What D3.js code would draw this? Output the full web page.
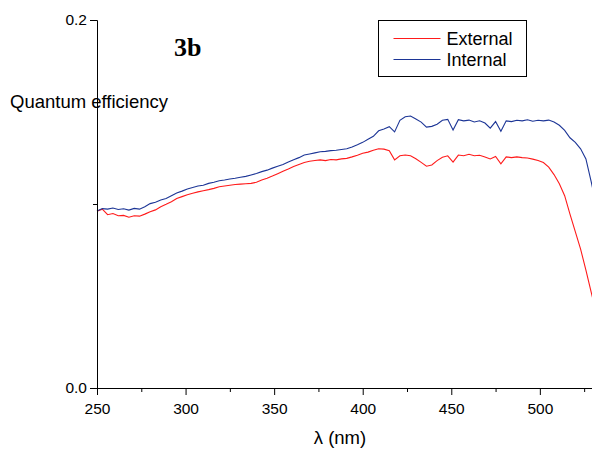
<!DOCTYPE html>
<html>
<head>
<meta charset="utf-8">
<script src="https://cdn.jsdelivr.net/npm/d3@7"></script>
<style>
  body { margin: 0; background: #fff; }
  svg { display: block; }
  .axis text { font-family: 'Liberation Sans', Arial, sans-serif; font-size: 15.5px; fill: #000; }
  .axis path, .axis line { stroke: #000; }
</style>
</head>
<body>
<svg width="592" height="451"></svg>
<script>
// wavelength (nm)
const wavelength = [
  250, 253, 256, 259, 262, 265, 268, 271, 274, 277,
  280, 283, 286, 289, 292, 295, 298, 301, 304, 307,
  310, 313, 316, 319, 322, 325, 328, 331, 334, 337,
  340, 343, 346, 349, 352, 355, 358, 361, 364, 367,
  370, 373, 376, 379, 382, 385, 388, 391, 394, 397,
  400, 403, 406, 409, 412, 415, 418, 421, 424, 427,
  430, 433, 436, 439, 442, 445, 448, 451, 454, 457,
  460, 463, 466, 469, 472, 475, 478, 481, 484, 487,
  490, 493, 496, 499, 502, 505, 508, 511, 514, 517,
  520, 523, 526, 529, 532
];

const external = [
  0.0960, 0.0972, 0.0942, 0.0948, 0.0936, 0.0938, 0.0928, 0.0936, 0.0934, 0.0945,
  0.0958, 0.0968, 0.0985, 0.0998, 0.1012, 0.1030, 0.1040, 0.1050, 0.1058, 0.1066,
  0.1072, 0.1078, 0.1085, 0.1094, 0.1098, 0.1102, 0.1106, 0.1108, 0.1110, 0.1112,
  0.1118, 0.1130, 0.1140, 0.1152, 0.1165, 0.1178, 0.1190, 0.1204, 0.1215, 0.1226,
  0.1232, 0.1236, 0.1240, 0.1236, 0.1242, 0.1240, 0.1245, 0.1248, 0.1256, 0.1265,
  0.1276, 0.1282, 0.1292, 0.1300, 0.1298, 0.1290, 0.1240, 0.1262, 0.1266, 0.1262,
  0.1246, 0.1226, 0.1205, 0.1212, 0.1236, 0.1254, 0.1262, 0.1228, 0.1266, 0.1262,
  0.1270, 0.1262, 0.1265, 0.1256, 0.1245, 0.1258, 0.1218, 0.1256, 0.1252, 0.1256,
  0.1252, 0.1250, 0.1244, 0.1236, 0.1225, 0.1200, 0.1160, 0.1110, 0.1045, 0.0945,
  0.0850, 0.0755, 0.0640, 0.0520, 0.0400
];

const internal = [
  0.0962, 0.0975, 0.0972, 0.0978, 0.0970, 0.0974, 0.0967, 0.0976, 0.0972, 0.0985,
  0.1002, 0.1010, 0.1022, 0.1030, 0.1045, 0.1060, 0.1070, 0.1082, 0.1090, 0.1098,
  0.1102, 0.1112, 0.1118, 0.1126, 0.1130, 0.1136, 0.1140, 0.1145, 0.1150, 0.1158,
  0.1166, 0.1176, 0.1184, 0.1195, 0.1205, 0.1215, 0.1228, 0.1240, 0.1252, 0.1266,
  0.1272, 0.1278, 0.1284, 0.1286, 0.1290, 0.1292, 0.1296, 0.1300, 0.1310, 0.1322,
  0.1335, 0.1352, 0.1368, 0.1398, 0.1408, 0.1420, 0.1392, 0.1455, 0.1474, 0.1478,
  0.1462, 0.1445, 0.1418, 0.1422, 0.1434, 0.1455, 0.1460, 0.1402, 0.1458, 0.1452,
  0.1456, 0.1446, 0.1452, 0.1440, 0.1412, 0.1448, 0.1395, 0.1452, 0.1448, 0.1455,
  0.1452, 0.1458, 0.1450, 0.1455, 0.1452, 0.1456, 0.1446, 0.1428, 0.1400, 0.1360,
  0.1335, 0.1300, 0.1245, 0.1120, 0.0990
];

const seriesNames = ['External', 'Internal'];
const seriesColors = ['#ff1a1a', '#1c3596'];
const xMajorTicks = [250, 300, 350, 400, 450, 500];
const xMinorTicks = [275, 325, 375, 425, 475, 525];
const yMajorTicks = [0, 0.2];
const yMinorTicks = [0.1];

const svg = d3.select('svg');
const MARGIN = { TOP: 20, LEFT: 97 };
const WIDTH = 496;
const HEIGHT = 368;

const g = svg.append('g')
  .attr('transform', `translate(${MARGIN.LEFT}, ${MARGIN.TOP})`);

const x = d3.scaleLinear().domain([250, 530]).range([0, WIDTH]);
const y = d3.scaleLinear().domain([0, 0.2]).range([HEIGHT, 0]);

const line = d3.line()
  .x((d, i) => x(wavelength[i]))
  .y(d => y(d));

[external, internal].forEach((vals, k) => {
  g.append('path')
    .datum(vals)
    .attr('fill', 'none')
    .attr('stroke', seriesColors[k])
    .attr('stroke-width', 1.1)
    .attr('d', line);
});

// axes: majors labelled, minors bare
g.append('g')
  .attr('class', 'axis')
  .attr('transform', `translate(0, ${HEIGHT})`)
  .call(d3.axisBottom(x).tickValues(xMajorTicks).tickSize(7).tickSizeOuter(0).tickPadding(8).tickFormat(d3.format('d')));
g.append('g')
  .attr('class', 'axis')
  .attr('transform', `translate(0, ${HEIGHT})`)
  .call(d3.axisBottom(x).tickValues(xMinorTicks).tickSize(4).tickSizeOuter(0).tickFormat(''));

g.append('g')
  .attr('class', 'axis')
  .call(d3.axisLeft(y).tickValues(yMajorTicks).tickSize(7).tickSizeOuter(0).tickPadding(3).tickFormat(d3.format('.1f')));
g.append('g')
  .attr('class', 'axis')
  .call(d3.axisLeft(y).tickValues(yMinorTicks).tickSize(4).tickSizeOuter(0).tickFormat(''));

// labels
svg.append('text')
  .attr('x', 10).attr('y', 108)
  .style('font', '18.5px "Liberation Sans", Arial, sans-serif')
  .text('Quantum efficiency');

svg.append('text')
  .attr('x', 340).attr('y', 444)
  .attr('text-anchor', 'middle')
  .style('font', '18.5px "Liberation Sans", Arial, sans-serif')
  .text('λ (nm)');

svg.append('text')
  .attr('x', 174).attr('y', 56)
  .style('font', 'bold 26px "Liberation Serif", "Times New Roman", serif')
  .text('3b');

// legend
const legend = svg.append('g').attr('transform', 'translate(378.5, 20.5)');
legend.append('rect')
  .attr('width', 148).attr('height', 56)
  .attr('fill', '#fff').attr('stroke', '#000');
seriesNames.forEach((name, k) => {
  const ly = 18 + k * 21;
  legend.append('line')
    .attr('x1', 15).attr('x2', 62)
    .attr('y1', ly).attr('y2', ly)
    .attr('stroke', seriesColors[k]);
  legend.append('text')
    .attr('x', 68).attr('y', ly + 6)
    .style('font', '18px "Liberation Sans", Arial, sans-serif')
    .text(name);
});
</script>
</body>
</html>
